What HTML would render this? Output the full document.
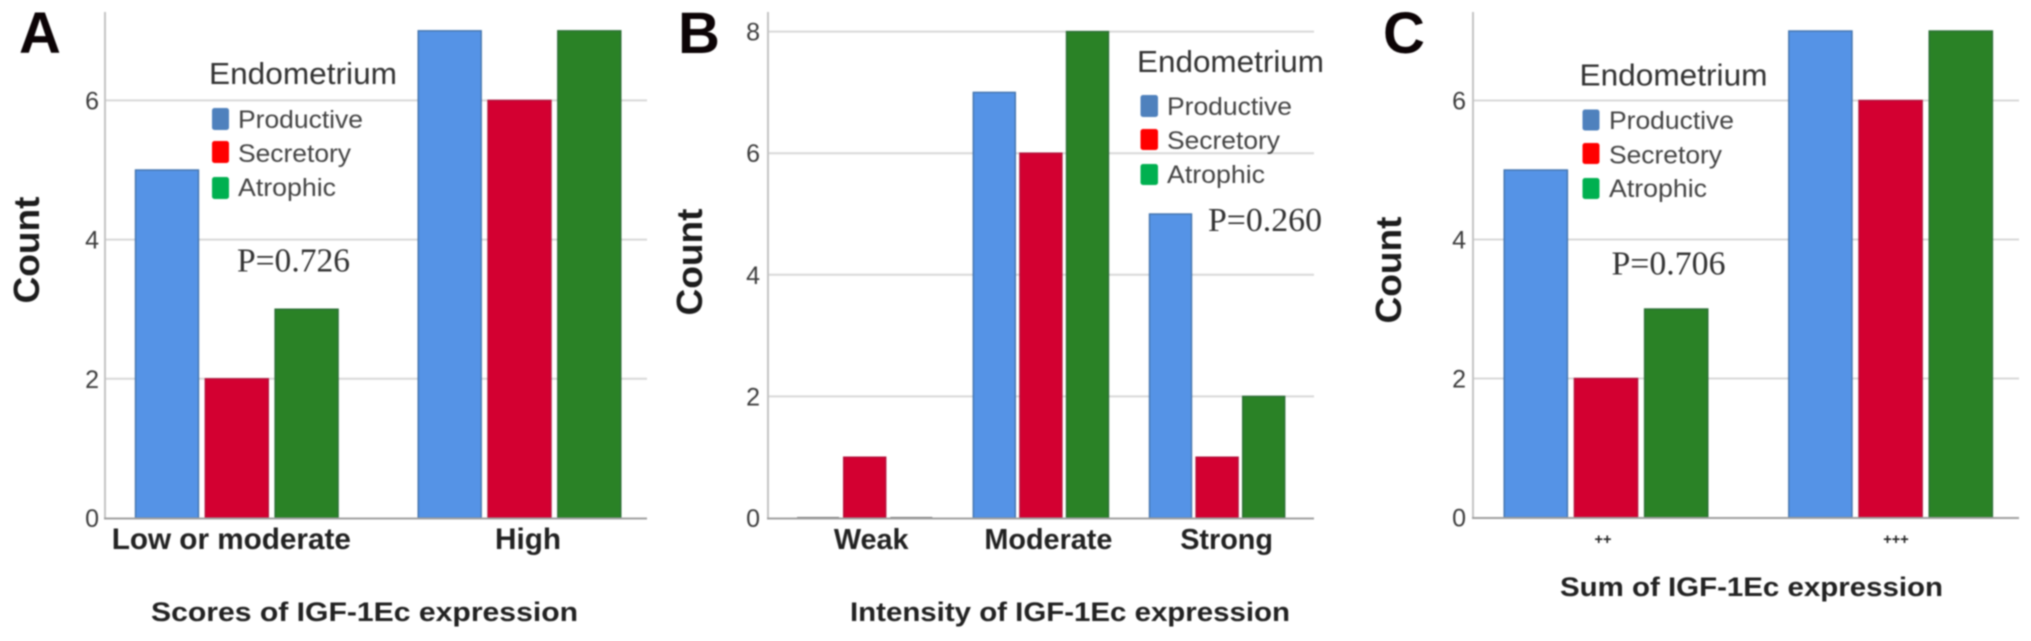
<!DOCTYPE html>
<html lang="en">
<head>
<meta charset="utf-8">
<title>IGF-1Ec expression by endometrium type</title>
<style>
html,body{margin:0;padding:0;background:#fff;width:2031px;height:641px;overflow:hidden}
svg{display:block;filter:blur(0.75px)}
text{font-family:"Liberation Sans",sans-serif}
.letter{font-size:58px;font-weight:700;fill:#0c0406}
.count{font-size:36px;font-weight:700;fill:#1c1c1c}
.title{font-size:27px;font-weight:700;fill:#222}
.cat{font-weight:700;fill:#222}
.tick{font-size:25px;fill:#3c3c3c}
.leg-title{font-size:31px;fill:#333}
.leg{font-size:25px;fill:#444}
.pval{font-family:"Liberation Serif",serif;font-size:34px;fill:#333}
</style>
</head>
<body>
<svg id="figure" width="2031" height="641" viewBox="0 0 2031 641" xmlns="http://www.w3.org/2000/svg">
  <g id="marks-a"></g>
  <g id="marks-b"></g>
  <g id="marks-c"></g>

  <text class="letter" x="19" y="53">A</text>
  <text class="letter" x="678" y="53">B</text>
  <text class="letter" x="1383" y="53">C</text>

  <text class="count" transform="translate(39 250) rotate(-90)" text-anchor="middle" textLength="107" lengthAdjust="spacingAndGlyphs">Count</text>
  <text class="count" transform="translate(702 262) rotate(-90)" text-anchor="middle" textLength="107" lengthAdjust="spacingAndGlyphs">Count</text>
  <text class="count" transform="translate(1401 270) rotate(-90)" text-anchor="middle" textLength="107" lengthAdjust="spacingAndGlyphs">Count</text>

  <text class="title" x="364.5" y="621" text-anchor="middle" textLength="427" lengthAdjust="spacingAndGlyphs">Scores of IGF-1Ec expression</text>
  <text class="title" x="1070" y="621" text-anchor="middle" textLength="440" lengthAdjust="spacingAndGlyphs">Intensity of IGF-1Ec expression</text>
  <text class="title" x="1751.5" y="596" text-anchor="middle" textLength="383" lengthAdjust="spacingAndGlyphs">Sum of IGF-1Ec expression</text>

  <g>
    <text class="leg-title" x="209" y="84" textLength="188" lengthAdjust="spacingAndGlyphs">Endometrium</text>
    <rect x="212" y="108" width="17" height="22" rx="2.5" fill="#4f81bd"/>
    <text class="leg" x="238" y="128" textLength="125" lengthAdjust="spacingAndGlyphs">Productive</text>
    <rect x="212" y="141" width="17" height="22" rx="2.5" fill="#ff0000"/>
    <text class="leg" x="238" y="162" textLength="113" lengthAdjust="spacingAndGlyphs">Secretory</text>
    <rect x="212" y="177" width="17" height="22" rx="2.5" fill="#00b050"/>
    <text class="leg" x="238" y="196" textLength="98" lengthAdjust="spacingAndGlyphs">Atrophic</text>
  </g>
  <text class="pval" x="237" y="271.5" textLength="113" lengthAdjust="spacingAndGlyphs">P=0.726</text>

  <g>
    <text class="leg-title" x="1137" y="72" textLength="187" lengthAdjust="spacingAndGlyphs">Endometrium</text>
    <rect x="1140.5" y="95" width="17.5" height="22" rx="2.5" fill="#4f81bd"/>
    <text class="leg" x="1167" y="115" textLength="125" lengthAdjust="spacingAndGlyphs">Productive</text>
    <rect x="1140.5" y="129" width="17.5" height="21" rx="2.5" fill="#ff0000"/>
    <text class="leg" x="1167" y="149" textLength="113" lengthAdjust="spacingAndGlyphs">Secretory</text>
    <rect x="1140.5" y="164" width="17.5" height="21" rx="2.5" fill="#00b050"/>
    <text class="leg" x="1167" y="183" textLength="98" lengthAdjust="spacingAndGlyphs">Atrophic</text>
  </g>
  <text class="pval" x="1208" y="231" textLength="114" lengthAdjust="spacingAndGlyphs">P=0.260</text>

  <g>
    <text class="leg-title" x="1579.5" y="85.5" textLength="188" lengthAdjust="spacingAndGlyphs">Endometrium</text>
    <rect x="1582.5" y="109.5" width="17" height="21" rx="2.5" fill="#4f81bd"/>
    <text class="leg" x="1609" y="129" textLength="125" lengthAdjust="spacingAndGlyphs">Productive</text>
    <rect x="1582.5" y="143" width="17" height="21" rx="2.5" fill="#ff0000"/>
    <text class="leg" x="1609" y="163.5" textLength="113" lengthAdjust="spacingAndGlyphs">Secretory</text>
    <rect x="1582.5" y="178" width="17" height="21" rx="2.5" fill="#00b050"/>
    <text class="leg" x="1609" y="197" textLength="98" lengthAdjust="spacingAndGlyphs">Atrophic</text>
  </g>
  <text class="pval" x="1611.5" y="274.5" textLength="114" lengthAdjust="spacingAndGlyphs">P=0.706</text>
</svg>

<script>
const seriesNames = ['productive', 'secretory', 'atrophic'];

const panelACategories = ['Low or moderate', 'High'];
const panelAProductive = [5, 7];
const panelASecretory = [2, 6];
const panelAAtrophic = [3, 7];
const panelATicks = [0, 2, 4, 6];

const panelBCategories = ['Weak', 'Moderate', 'Strong'];
const panelBProductive = [0, 7, 5];
const panelBSecretory = [1, 6, 1];
const panelBAtrophic = [0, 8, 2];
const panelBTicks = [0, 2, 4, 6, 8];

const panelCCategories = ['++', '+++'];
const panelCProductive = [5, 7];
const panelCSecretory = [2, 6];
const panelCAtrophic = [3, 7];
const panelCTicks = [0, 2, 4, 6];

const SVG_NS = 'http://www.w3.org/2000/svg';
const fills = ['#5593e6', '#d30031', '#2a8226'];
const strokes = ['#4273ad', '#b5103a', '#2b6f35'];

function make(tag, parent, attrs) {
  const el = document.createElementNS(SVG_NS, tag);
  Object.keys(attrs).forEach(function (k) { el.setAttribute(k, attrs[k]); });
  parent.appendChild(el);
  return el;
}

function drawPanel(rootId, categories, series, ticks, layout) {
  const root = document.getElementById(rootId);
  const yScale = function (v) { return layout.y0 - v * layout.unit; };
  const groupCenter = function (i) { return layout.center0 + i * layout.groupStep; };
  const barX = function (i, s) { return groupCenter(i) + (s - 1) * layout.barStep - layout.barWidth / 2; };

  ticks.forEach(function (t) {
    if (t !== 0) {
      const grid = make('line', root, { x1: layout.axisX, x2: layout.right, y1: yScale(t), y2: yScale(t), stroke: '#d8d8d8', 'stroke-width': 2 });
      
      
    }
    const label = make('text', root, { x: layout.tickRight, y: yScale(t) + 9, 'text-anchor': 'end', class: 'tick' });
    label.textContent = String(t);
    
    
  });

  const yAxis = make('line', root, { x1: layout.axisX, x2: layout.axisX, y1: 12, y2: layout.y0, stroke: '#c4c4c4', 'stroke-width': 2 });
  
  

  categories.forEach(function (cat, i) {
    series.forEach(function (values, s) {
      const v = values[i];
      const top = yScale(v);
      const bar = make('rect', root, {
        x: barX(i, s), y: v === 0 ? layout.y0 - 1 : top,
        width: layout.barWidth, height: v === 0 ? 1 : layout.y0 - top,
        fill: v === 0 ? '#555' : fills[s], stroke: v === 0 ? 'none' : strokes[s], 'stroke-width': 1.4
      });
      
      
    });
    const catLabel = make('text', root, {
      x: groupCenter(i) + layout.labelShift[i], y: layout.catY, 'text-anchor': 'middle',
      class: 'cat', style: 'font-size:' + layout.catSize + 'px'
    });
    catLabel.textContent = cat;
    
    
  });

  const xAxis = make('line', root, { x1: layout.axisX - 1, x2: layout.right, y1: layout.y0 + 0.5, y2: layout.y0 + 0.5, stroke: '#a0a0a0', 'stroke-width': 2 });
  
  
}

drawPanel('marks-a', panelACategories, [panelAProductive, panelASecretory, panelAAtrophic], panelATicks, {
  axisX: 105, right: 647, y0: 518, unit: 69.6, tickRight: 99, center0: 236.8, groupStep: 282.7,
  barWidth: 63, barStep: 69.8, catY: 549, catSize: 29.7, labelShift: [-5.5, 8.5]
});
drawPanel('marks-b', panelBCategories, [panelBProductive, panelBSecretory, panelBAtrophic], panelBTicks, {
  axisX: 768, right: 1314, y0: 518, unit: 60.8, tickRight: 760, center0: 864.7, groupStep: 176.2,
  barWidth: 42, barStep: 46.6, catY: 549, catSize: 28.8, labelShift: [6.5, 7.5, 9.5]
});
drawPanel('marks-c', panelCCategories, [panelCProductive, panelCSecretory, panelCAtrophic], panelCTicks, {
  axisX: 1473, right: 2019, y0: 517.5, unit: 69.5, tickRight: 1466, center0: 1606, groupStep: 284.6,
  barWidth: 63.2, barStep: 70.2, catY: 544, catSize: 14.5, labelShift: [-3, 5.4]
});
</script>
</body>
</html>
